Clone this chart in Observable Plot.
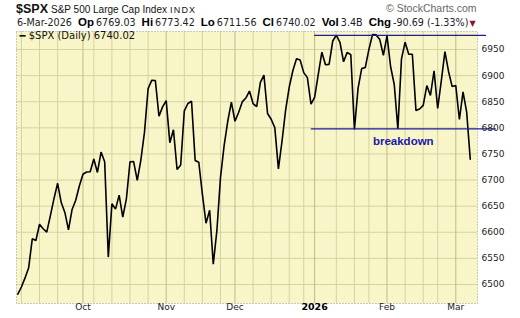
<!DOCTYPE html>
<html><head><meta charset="utf-8">
<script src="https://cdn.jsdelivr.net/npm/d3@7"></script>
<script src="https://cdn.jsdelivr.net/npm/@observablehq/plot@0.6"></script>
<style>
html,body{margin:0;padding:0;background:#fff;}
body{width:520px;height:318px;overflow:hidden;position:relative;}
#hdr{position:relative;height:30px;width:520px;}
#l1{position:absolute;left:16px;top:2px;white-space:nowrap;font-family:"Liberation Sans",Arial,sans-serif;font-size:10px;color:#111;}
#l1 .sym{font-weight:bold;font-size:12.5px;margin-right:3px;}
#l1 .ex{font-size:9px;letter-spacing:1.2px;margin-left:3px;}
#copy{position:absolute;left:386px;top:2px;font-family:"Liberation Sans",Arial,sans-serif;font-size:10.5px;color:#666;white-space:nowrap;}
#l2{position:absolute;left:17px;top:16px;white-space:nowrap;font-family:"DejaVu Sans",Verdana,sans-serif;font-size:9.6px;color:#222;}
#l2 b{font-family:"Liberation Sans",Arial,sans-serif;font-weight:bold;font-size:11.5px;color:#000;margin-left:6px;margin-right:2px;}
#l2 .dn{color:#8b1538;font-size:8px;margin-left:1px;}
#chart{position:absolute;left:0;top:30px;}
</style></head><body>
<div id="hdr"><div id="l1"></div><div id="copy">© StockCharts.com</div><div id="l2"></div></div>
<div id="chart"></div>
<script>
// ---- data ----
const symbol = "$SPX";
const indexName = "S&P 500 Large Cap Index";
const exchange = "INDX";
const quoteDate = "6-Mar-2026";
const quoteLabels = ["Op","Hi","Lo","Cl","Vol","Chg"];
const quoteValues = ["6769.03","6773.42","6711.56","6740.02","3.4B","-90.69 (-1.33%)"];
const legendText = "$SPX (Daily) 6740.02";

// daily closes, 5-Sep-2025 .. 6-Mar-2026 (trading days)
const closes = [
 6481.5,6495.2,6512.6,6532.0,6587.5,6584.3,6615.3,6606.8,6600.4,6632.0,
 6664.4,6693.8,6656.9,6638.0,6604.7,6643.7,6661.2,6688.5,6711.2,6715.4,
 6715.8,6740.3,6714.6,6753.7,6735.1,6552.5,6654.7,6644.3,6671.1,6629.1,
 6664.0,6735.1,6735.4,6699.4,6738.4,6791.7,6875.2,6890.9,6890.6,6822.3,
 6840.2,6852.0,6771.6,6796.3,6720.3,6728.8,6832.4,6846.6,6850.9,6737.5,
 6734.1,6672.4,6617.3,6642.2,6538.8,6603.0,6705.1,6765.9,6812.6,6849.1,
 6812.6,6829.4,6849.7,6857.1,6870.4,6846.5,6840.5,6886.7,6901.0,6827.4,
 6816.5,6800.3,6721.4,6774.8,6834.5,6878.5,6909.8,6932.1,6929.9,6905.7,
 6896.2,6845.5,6858.5,6902.1,6944.8,6920.9,6921.5,6966.3,6977.3,6963.7,
 6926.6,6944.5,6940.0,6796.9,6875.6,6913.4,6915.6,6950.2,6978.6,6978.0,
 6969.0,6939.0,6976.0,6917.0,6883.0,6798.0,6932.0,6964.0,6941.0,6941.0,
 6833.0,6836.0,6843.0,6881.0,6862.0,6909.0,6837.0,6890.0,6946.0,6908.0,
 6879.0,6881.0,6816.0,6869.0,6830.71,6740.02
];
// first trading day of each month (index into closes) and its label
const monthIdx = [18,41,60,82,102,121];
const monthLabels = ["Oct","Nov","Dec","2026","Feb","Mar"];
const yearLabel = "2026";
// first trading day of each week (weekly grid)
const weekIdx = [1,6,11,21,26,31,36,46,51,56,65,70,75,79,88,93,97,107,112,116];
const yTicks = [6500,6550,6600,6650,6700,6750,6800,6850,6900,6950];
// annotations (trading-day index, price)
const resistance = [{i:82,v:6977},{i:129.2,v:6977}];
const support = [{i:81.1,v:6798},{i:131.9,v:6798}];
const noteText = "breakdown";
const notePos = {i:106.5, v:6774};

// ---- header ----
const l1 = document.getElementById("l1");
l1.innerHTML = "";
const s1 = document.createElement("span"); s1.className="sym"; s1.textContent=symbol; l1.appendChild(s1);
l1.appendChild(document.createTextNode(indexName));
const s2 = document.createElement("span"); s2.className="ex"; s2.textContent=exchange; l1.appendChild(s2);
const l2 = document.getElementById("l2");
l2.appendChild(document.createTextNode(quoteDate));
quoteLabels.forEach((lab,k)=>{
  const b=document.createElement("b"); b.textContent=lab; l2.appendChild(b);
  l2.appendChild(document.createTextNode(quoteValues[k]));
});
const dn=document.createElement("span"); dn.className="dn"; dn.textContent="▼"; l2.appendChild(dn);

// ---- chart ----
const data = closes.map((v,i)=>({i,v}));
const font = "DejaVu Sans, Verdana, sans-serif";
const chart = Plot.plot({
  width:520, height:288,
  marginTop:1, marginBottom:15, marginLeft:16, marginRight:43,
  x:{type:"linear", domain:[-0.36,127], axis:null},
  y:{domain:[6463.6,6984.5], axis:null},
  style:{background:"transparent", fontFamily:font, overflow:"visible"},
  marks:[
    Plot.frame({fill:"#f8f6c8", stroke:null}),
    Plot.ruleY(yTicks,{y:d=>d, stroke:"#d6d2a0", strokeWidth:1}),
    Plot.ruleX(weekIdx,{x:d=>d, stroke:"#d6d2a0", strokeWidth:1}),
    Plot.ruleX(monthIdx,{x:d=>d, stroke:"#bfba88", strokeWidth:1}),
    Plot.frame({stroke:"#9d9a80", strokeDasharray:"1,2", fill:null}),
    Plot.text([legendText],{text:d=>"━ "+d, frameAnchor:"top-left", lineAnchor:"middle", textAnchor:"start", dx:3, dy:4.7, fontSize:10, fill:"#111", fontFamily:font, style:"letter-spacing:0.55px"}),
    Plot.line(data,{x:"i", y:"v", stroke:"#000", strokeWidth:1.6, strokeLinejoin:"miter"}),
    Plot.line(resistance,{x:"i", y:"v", stroke:"#1c1c9c", strokeWidth:1.3, clip:false}),
    Plot.line(support,{x:"i", y:"v", stroke:"#1c1c9c", strokeWidth:1.3, clip:false}),
    Plot.text([noteText],{x:()=>notePos.i, y:()=>notePos.v, text:d=>d, fill:"#1a1aa8", fontWeight:"bold", fontSize:11.5, fontFamily:"Liberation Sans, Arial, sans-serif"}),
    Plot.text(yTicks,{y:d=>d, text:d=>String(d), frameAnchor:"right", textAnchor:"start", dx:4, fontSize:9, fill:"#222"}),
    Plot.text(monthIdx.filter((d,k)=>monthLabels[k]!==yearLabel),{x:d=>d, text:d=>monthLabels[monthIdx.indexOf(d)], frameAnchor:"bottom", dy:6, fontSize:9, fill:"#222", style:"letter-spacing:1px"}),
    Plot.text(monthIdx.filter((d,k)=>monthLabels[k]===yearLabel),{x:d=>d, text:d=>monthLabels[monthIdx.indexOf(d)], frameAnchor:"bottom", dy:6, fontSize:9.5, fontWeight:"bold", fill:"#000"})
  ]
});
document.getElementById("chart").appendChild(chart);
</script>
</body></html>
